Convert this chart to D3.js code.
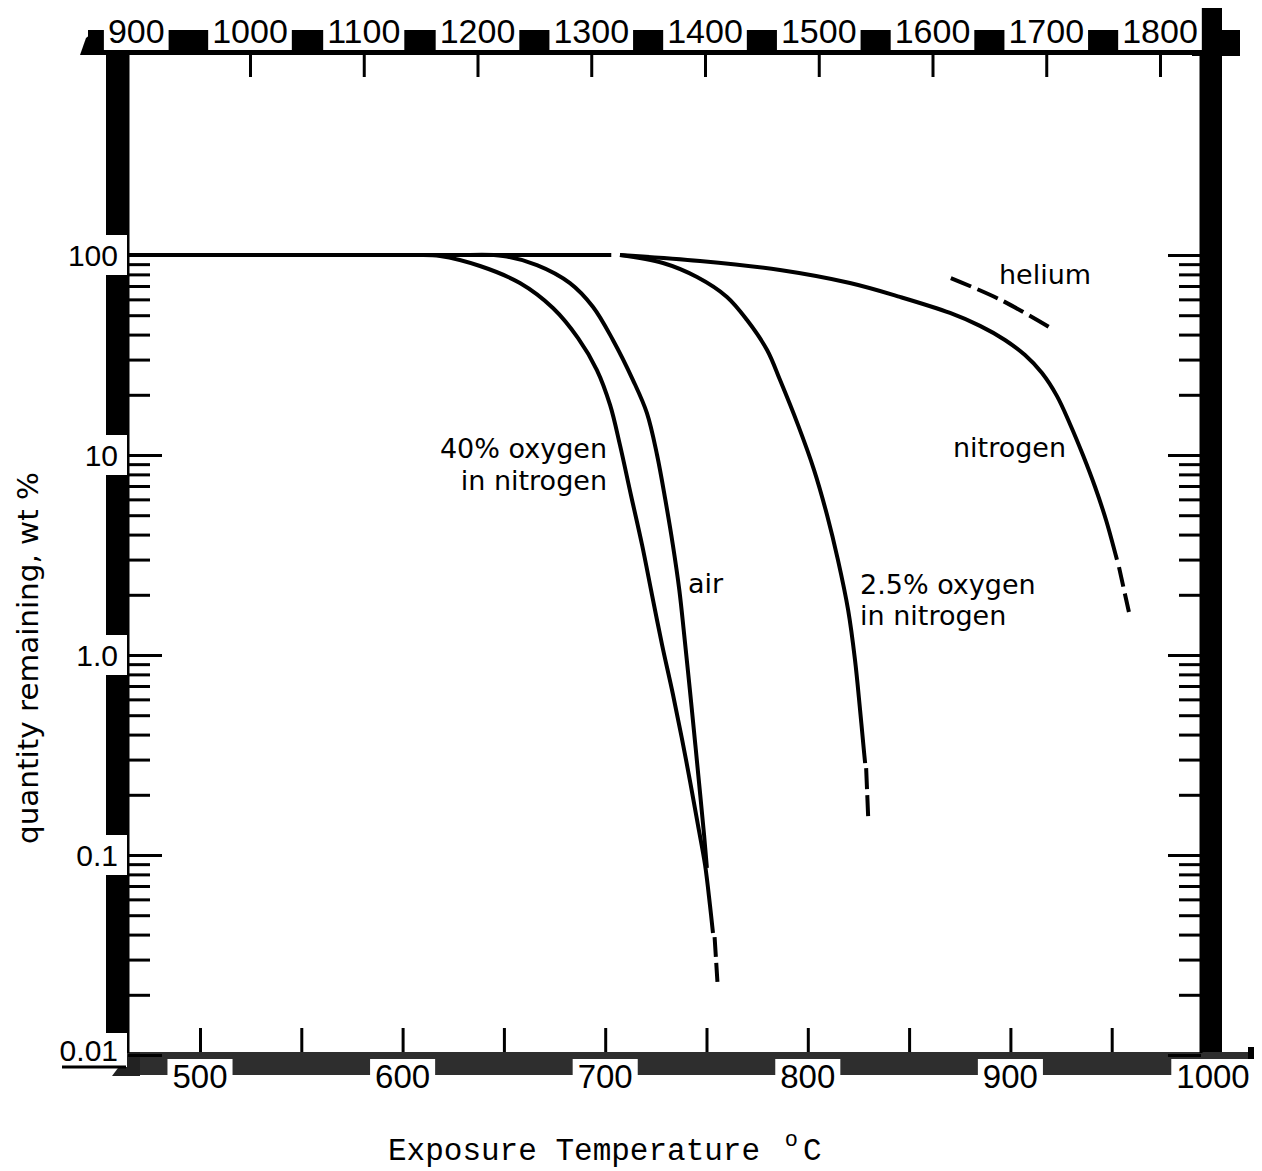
<!DOCTYPE html>
<html>
<head>
<meta charset="utf-8">
<script src="https://cdn.jsdelivr.net/npm/d3@7"></script>
<style>
body { margin: 0; background: #fff; }
</style>
</head>
<body>
<svg id="chart" width="1262" height="1171"></svg>
<script>
// values: [temperature degC, wt % remaining]
const trunk = [[464.4, 100], [600.0, 100], [703.0, 100]];
const nitrogen = [[707.3, 100], [746.8, 93.3], [786.3, 84.1], [820.8, 72.4], [845.5, 61.7], [870.2, 51.3],
    [885.0, 44.2], [897.3, 37.6], [907.2, 31.6], [915.6, 25.7], [923.0, 19.7], [929.4, 14.3],
    [935.8, 10.0], [941.8, 6.92], [947.2, 4.73], [952.6, 2.99]];
const nitrogenDash = [[953.6, 2.75], [958.5, 1.64]];
const helium = [[870.6, 76.7], [895.3, 59.6], [919.0, 43.7]];
const oxy40 = [[608.6, 100], [618.5, 98.9], [638.2, 88.1], [657.9, 72.4], [674.2, 54.3], [686.6, 38.4],
    [695.9, 26.6], [702.4, 17.8], [707.3, 11.2], [712.7, 6.31], [718.2, 3.55], [723.1, 2.00],
    [728.1, 1.12], [733.5, 0.631], [739.9, 0.299], [745.8, 0.141], [749.3, 0.0891], [751.7, 0.0562],
    [753.2, 0.0407]];
const oxy40Dash = [[754.0, 0.0389], [755.4, 0.0232]];
const air = [[633.3, 100], [649.6, 98.9], [666.3, 89.1], [682.6, 72.4], [694.0, 55.0], [703.8, 37.6],
    [713.7, 23.7], [720.6, 16.2], [725.6, 10.0], [729.7, 5.96], [733.4, 3.55], [736.6, 2.11],
    [739.0, 1.26], [741.8, 0.668], [744.5, 0.355], [746.9, 0.200], [748.8, 0.126], [750.2, 0.0861]];
const oxy25 = [[707.3, 100], [728.5, 91.2], [745.3, 77.6], [760.1, 61.7], [770.0, 47.3], [779.9, 33.5],
    [786.3, 23.7], [795.2, 14.1], [803.1, 8.41], [809.5, 5.01], [814.9, 2.98], [819.9, 1.68],
    [823.3, 0.944], [825.8, 0.531], [827.8, 0.324], [828.3, 0.288]];
const oxy25Dash = [[828.8, 0.272], [829.8, 0.155]];

const bottomTicks = [500, 550, 600, 650, 700, 750, 800, 850, 900, 950];
const bottomLabels = [500, 600, 700, 800, 900, 1000];
const topTicks = [1000, 1100, 1200, 1300, 1400, 1500, 1600, 1700, 1800];
const topLabels = [900, 1000, 1100, 1200, 1300, 1400, 1500, 1600, 1700, 1800];
const decades = [0.01, 0.1, 1, 10, 100];
const decadeLabels = ["0.01", "0.1", "1.0", "10", "100"];
const minorTicks = [];
[0.01, 0.1, 1, 10].forEach(d => { for (let k = 2; k <= 9; k++) minorTicks.push(d * k); });

const svg = d3.select("#chart");

const x = d3.scaleLinear().domain([500, 1000]).range([200, 1213]);
const xF = d3.scaleLinear().domain([1000, 1800]).range([250, 1160]);
const y = d3.scaleLog().domain([0.01, 100]).range([1055, 255]);

const frameL = 128, frameR = 1201, frameT = 53, frameB = 1053;

// thick border bars
svg.append("rect").attr("x", 106).attr("y", 55).attr("width", 22).attr("height", frameB - 55).attr("fill", "#000");
svg.append("rect").attr("x", frameR).attr("y", 8).attr("width", 21).attr("height", frameB - 8).attr("fill", "#000");
svg.append("path").attr("d", "M1192,8 L1216,8 L1216,30 L1240,30 L1240,56 L1192,56 Z").attr("fill", "#000");
svg.append("rect").attr("x", 88).attr("y", 30).attr("width", 1110).attr("height", 25).attr("fill", "#000");
svg.append("path").attr("d", "M80,55 L86,38 L96,30 L96,55 Z").attr("fill", "#000");
svg.append("rect").attr("x", 122).attr("y", 1052).attr("width", 1130).attr("height", 23).attr("fill", "#2e2e2e");
svg.append("path").attr("d", "M112,1076 L130,1052 L140,1052 L140,1076 Z").attr("fill", "#222");
svg.append("rect").attr("x", 1248).attr("y", 1047).attr("width", 6).attr("height", 31).attr("fill", "#000");

// spines
svg.append("line").attr("x1", frameL).attr("x2", frameL).attr("y1", frameT).attr("y2", frameB)
    .attr("stroke", "#000").attr("stroke-width", 3);
svg.append("line").attr("x1", frameR).attr("x2", frameR).attr("y1", frameT).attr("y2", frameB)
    .attr("stroke", "#000").attr("stroke-width", 3);

// tick marks through d3 axes
function styleAxis(g) {
    g.select(".domain").remove();
    g.selectAll(".tick line").attr("stroke", "#000").attr("stroke-width", 3);
    g.selectAll(".tick text").remove();
}
svg.append("g").attr("transform", `translate(${frameL},0)`)
    .call(d3.axisRight(y).tickValues(decades.slice(0, 4)).tickSize(34)).call(styleAxis);
svg.append("g").attr("transform", `translate(${frameL},0)`)
    .call(d3.axisRight(y).tickValues(minorTicks).tickSize(22)).call(styleAxis);
svg.append("g").attr("transform", `translate(${frameR},0)`)
    .call(d3.axisLeft(y).tickValues(decades).tickSize(33)).call(styleAxis);
svg.append("g").attr("transform", `translate(${frameR},0)`)
    .call(d3.axisLeft(y).tickValues(minorTicks).tickSize(22)).call(styleAxis);
svg.append("g").attr("transform", `translate(0,${frameT + 2})`)
    .call(d3.axisBottom(xF).tickValues(topTicks).tickSize(22)).call(styleAxis);
svg.append("g").attr("transform", `translate(0,${frameB - 1})`)
    .call(d3.axisTop(x).tickValues(bottomTicks).tickSize(24)).call(styleAxis);

const numFont = "'Liberation Sans', Arial, sans-serif";

// boxed labels: white box covering the bar, then the number
function boxedLabel(tx, ty, txt, anchor, size, box) {
    const t = svg.append("text").attr("x", tx).attr("y", ty).attr("text-anchor", anchor)
        .style("font-family", numFont).style("font-size", size + "px").attr("fill", "#000").text(txt);
    const w = t.node().getComputedTextLength();
    const x0 = anchor === "end" ? tx - w : anchor === "middle" ? tx - w / 2 : tx;
    svg.insert("rect", "text").attr("x", box.x != null ? box.x : x0 - box.pad)
        .attr("y", box.y).attr("width", box.w != null ? box.w : w + 2 * box.pad)
        .attr("height", box.h).attr("fill", "#fff");
}

topLabels.forEach(v => boxedLabel(xF(v), 43, v, "middle", 34, { pad: 4, y: 8, h: 42 }));
bottomLabels.forEach(v => boxedLabel(x(v), 1088, v, "middle", 33, { pad: 5, y: 1059, h: 34 }));
decades.forEach((v, i) => {
    const yy = y(v);
    if (v === 0.01) {
        boxedLabel(118, yy + 6, decadeLabels[i], "end", 30, { x: 55, w: 72, y: yy - 22, h: 34 });
    } else {
        boxedLabel(118, yy + 11, decadeLabels[i], "end", 30, { x: 55, w: 72, y: yy - 20, h: 40 });
    }
});
svg.append("line").attr("x1", 62).attr("x2", 126).attr("y1", 1067).attr("y2", 1067)
    .attr("stroke", "#000").attr("stroke-width", 3);

// curves
const line = d3.line().x(d => x(d[0])).y(d => y(d[1])).curve(d3.curveCatmullRom.alpha(0.5));
const curves = [
    { data: trunk, dash: null },
    { data: nitrogen, dash: null },
    { data: nitrogenDash, dash: "20,7" },
    { data: helium, dash: "22,7" },
    { data: oxy40, dash: null },
    { data: oxy40Dash, dash: "20,6" },
    { data: air, dash: null },
    { data: oxy25, dash: null },
    { data: oxy25Dash, dash: "21,6" }
];
curves.forEach(c => {
    svg.append("path").attr("d", line(c.data)).attr("fill", "none")
        .attr("stroke", "#000").attr("stroke-width", 4)
        .attr("stroke-dasharray", c.dash);
});

// curve annotations
const noteFont = "'DejaVu Sans', Verdana, sans-serif";
const notes = [
    { t: "40% oxygen", x: 607, y: 458, a: "end" },
    { t: "in nitrogen", x: 607, y: 490, a: "end" },
    { t: "air", x: 688, y: 593, a: "start" },
    { t: "2.5% oxygen", x: 860, y: 594, a: "start" },
    { t: "in nitrogen", x: 860, y: 625, a: "start" },
    { t: "nitrogen", x: 953, y: 457, a: "start" },
    { t: "helium", x: 999, y: 284, a: "start" }
];
svg.selectAll("text.note").data(notes).enter().append("text").attr("class", "note")
    .attr("x", d => d.x).attr("y", d => d.y).attr("text-anchor", d => d.a)
    .style("font-family", noteFont).style("font-size", "27px").attr("fill", "#000")
    .text(d => d.t);

// axis titles
svg.append("text").attr("transform", "translate(38,658) rotate(-90)").attr("text-anchor", "middle")
    .attr("textLength", 372).attr("lengthAdjust", "spacingAndGlyphs")
    .style("font-family", noteFont).style("font-size", "28px").attr("fill", "#000")
    .text("quantity remaining, wt %");

const xt = svg.append("text").attr("x", 388).attr("y", 1160)
    .style("font-family", "'Liberation Mono', 'Courier New', monospace").style("font-size", "31px")
    .attr("fill", "#000");
xt.append("tspan").text("Exposure Temperature ");
xt.append("tspan").attr("dx", 6).attr("dy", -14).style("font-size", "22px").text("o");
xt.append("tspan").attr("dx", 5).attr("dy", 14).text("C");
</script>
</body>
</html>
